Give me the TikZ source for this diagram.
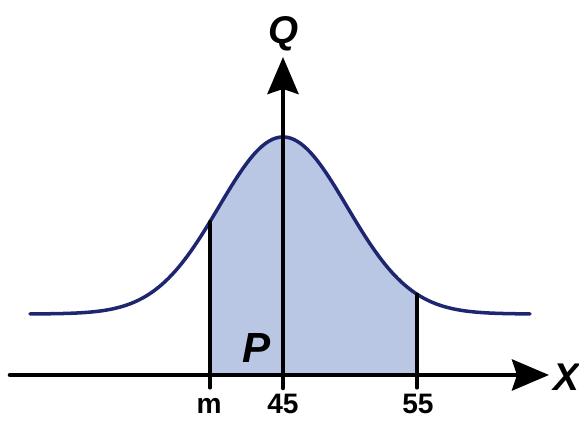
\documentclass[tikz,border=0pt]{standalone}
\usepackage{fontspec}
\setmainfont{Liberation Sans}
\usetikzlibrary{arrows.meta}
\definecolor{curveblue}{RGB}{30,38,112}
\definecolor{areablue}{RGB}{186,199,228}
\begin{document}
\begin{tikzpicture}[x=0.02cm,y=0.02cm,line cap=round,line join=round,
  axis/.style={line width=2.6pt,-{Stealth[length=0.74cm,width=0.62cm,inset=0.1cm]}},
  edgeline/.style={draw=black,line width=1.8pt},
  tick label/.style={font=\fontsize{16}{16}\selectfont\bfseries,anchor=base,inner sep=0pt},
  var label/.style={font=\fontsize{22}{22}\selectfont\bfseries\itshape,anchor=base,inner sep=0pt}]
  \useasboundingbox (0,0) rectangle (579,421);
  % bell curve: base 107, peak 284, centre 283, sigma 64
  \def\bell(#1){107+177*exp(-0.5*(((#1)-283)/64)^2)}
  \coordinate (xstart) at (10,46);
  \coordinate (xend) at (549,46);
  \coordinate (O) at (283,46);
  \coordinate (Obot) at (283,33);
  \coordinate (ytop) at (283,364);
  \coordinate (mbot) at (210,33);
  \coordinate (mtop) at (210,{\bell(210)});
  \coordinate (nbot) at (417,33);
  \coordinate (ntop) at (417,{\bell(417)});
  \fill[areablue] (210,46) -- plot[domain=210:417,samples=80] (\x,{\bell(\x)}) -- (417,46) -- cycle;
  \draw[curveblue,line width=2pt] plot[domain=30:530,samples=160] (\x,{\bell(\x)});
  \draw[edgeline] (mbot) -- (mtop);
  \draw[edgeline] (nbot) -- (ntop);
  \draw[axis] (xstart) -- (xend);
  \draw[axis] (Obot) -- (ytop);
  \node[var label] (q) at (284,377) {Q};
  \node[var label,font=\fontsize{24}{24}\selectfont\bfseries\itshape] (p) at (257,58) {P};
  \node[var label,anchor=base west] (xl) at (553,30) {X};
  \node[tick label] (lm) at (209,7) {m};
  \node[tick label] (l45) at (283,7) {45};
  \node[tick label] (l55) at (418,7) {55};
\end{tikzpicture}
\end{document}
